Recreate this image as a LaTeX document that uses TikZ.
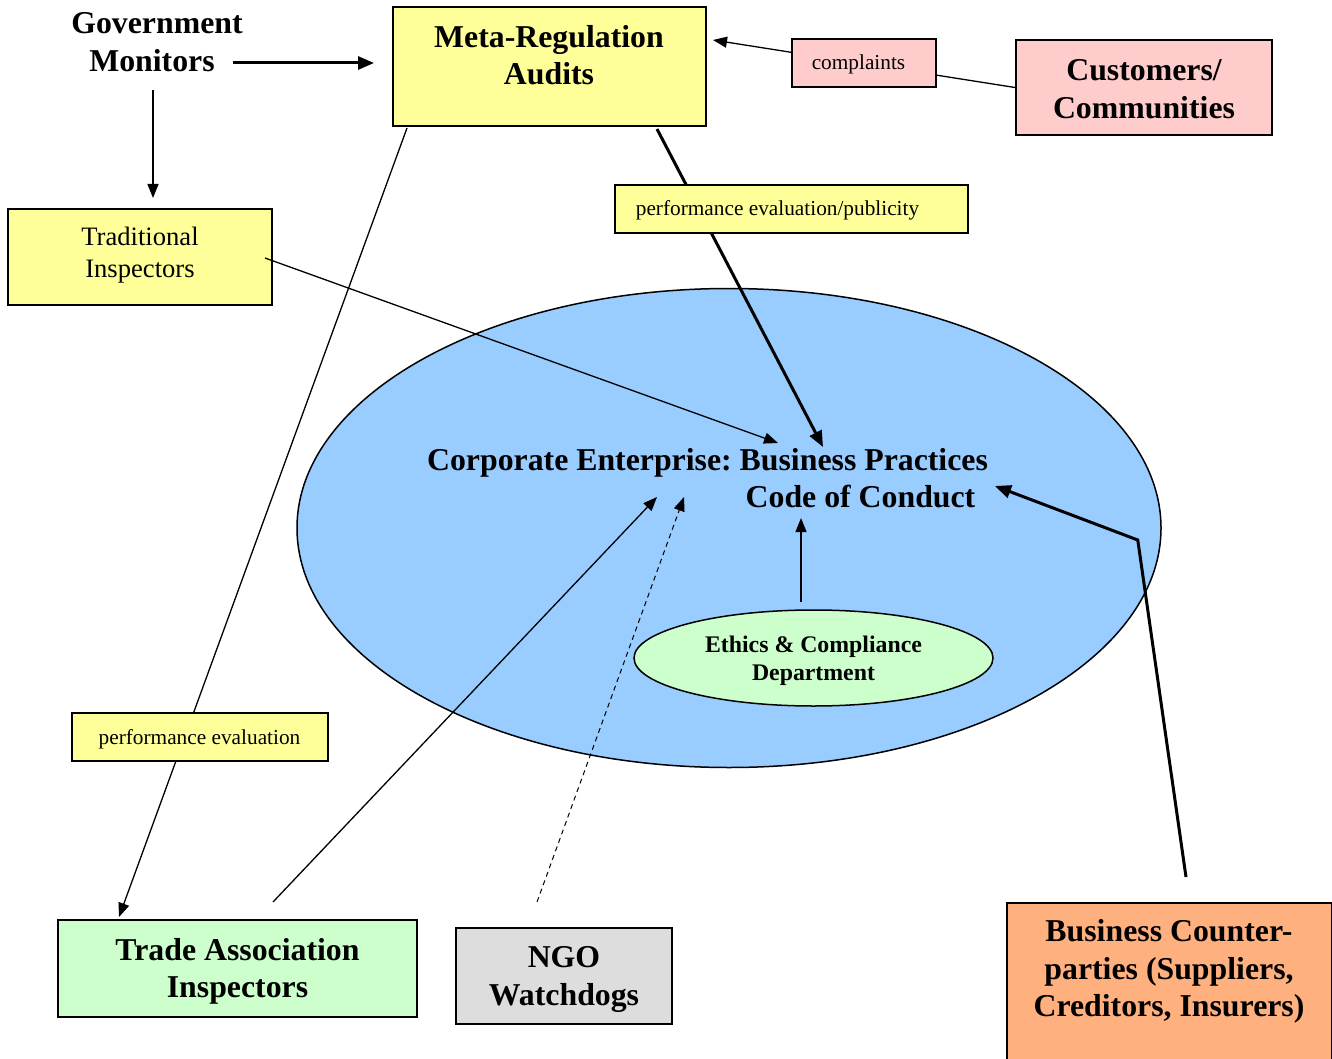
\documentclass[tikz,border=0pt]{standalone}
\usepackage{fontspec}
\setmainfont{Liberation Serif}
\usetikzlibrary{arrows.meta,calc,shapes.geometric}
\frenchspacing

\definecolor{boxyellow}{HTML}{FFFF99}
\definecolor{boxpink}{HTML}{FFCCCC}
\definecolor{corpblue}{HTML}{99CCFF}
\definecolor{boxgreen}{HTML}{CCFFCC}
\definecolor{boxgrey}{HTML}{DDDDDD}
\definecolor{boxorange}{HTML}{FFB07F}

\tikzset{
  panel/.style={draw=black, line width=2pt, rectangle, inner sep=0pt},
  bigtxt/.style={font=\fontsize{31.8}{37.5}\selectfont\bfseries, align=center, inner sep=0pt},
  midtxt/.style={font=\fontsize{26.6}{32}\selectfont, align=center, inner sep=0pt},
  smalltxt/.style={font=\fontsize{21.3}{24}\selectfont, inner sep=0pt},
  deptxt/.style={font=\fontsize{23.8}{28}\selectfont\bfseries, align=center, inner sep=0pt},
  thinarrow/.style={line width=1.3pt, -{Triangle[length=14pt,width=11pt]}},
  thickarrow/.style={line width=3pt, -{Triangle[length=16pt,width=13pt]}},
  dashedarrow/.style={line width=1pt, dash pattern=on 5pt off 4pt, -{Triangle[length=14pt,width=11pt]}},
}

\begin{document}
\begin{tikzpicture}[x=1pt,y=-1pt]
\useasboundingbox (0,0) rectangle (1332,1059);

% corporate enterprise and its compliance department
\node[draw=black, line width=1.5pt, fill=corpblue, ellipse, minimum width=864, minimum height=479, inner sep=0pt] (corp) at (729,528) {};
\node[draw=black, line width=1.5pt, fill=boxgreen, ellipse, minimum width=359, minimum height=96, inner sep=0pt] (ethics) at (813.5,658) {};
\node[deptxt] (ethicstext) at (813.5,661) {Ethics \& Compliance\\Department};
\node[bigtxt, anchor=base] (corptext) at (707.5,470) {Corporate Enterprise: Business Practices};
\node[bigtxt, anchor=base] (codetext) at (860.5,507) {Code of Conduct};

% regulators and outside parties
\node[bigtxt] (gov) at (157,42) {Government\\Monitors\rule{10pt}{0pt}};
\node[panel, fill=boxyellow, minimum width=313, minimum height=119] (meta) at (549.5,66.5) {};
\node[bigtxt] (metatext) at (549,55) {Meta-Regulation\\Audits};
\node[panel, fill=boxyellow, minimum width=264, minimum height=96] (trad) at (140,257) {};
\node[midtxt] (tradtext) at (140,255) {Traditional\\Inspectors};
\node[panel, fill=boxpink, minimum width=256, minimum height=95] (cust) at (1144,87.5) {};
\node[bigtxt] (custtext) at (1144,89) {Customers/\\Communities};
\node[panel, fill=boxgreen, minimum width=359, minimum height=97] (trade) at (237.5,968.5) {};
\node[bigtxt] (tradetext) at (237.5,971.5) {Trade Association\\Inspectors};
\node[panel, fill=boxgrey, minimum width=216, minimum height=96] (ngo) at (564,976) {};
\node[bigtxt] (ngotext) at (564,979.5) {NGO\\Watchdogs};
\node[panel, fill=boxorange, minimum width=325, minimum height=162, anchor=north west] (biz) at (1006,902) {};
\node[bigtxt] (biztext) at (1169,971.5) {Business Counter-\\parties (Suppliers,\\Creditors, Insurers)};

% connectors
\draw[thickarrow] ($(gov.center)+(76,21)$) -- ($(meta.west)+(-18,-3.5)$);
\draw[thinarrow] ($(gov.center)+(-4,48)$) -- ($(trad.north)+(13,-10)$);
\draw[thinarrow] ($(trad.east)+(-8,1)$) -- ($(corptext.base)+(70.5,-27)$);
\draw[thickarrow] ($(meta.south)+(107.5,2)$) -- ($(codetext.base)+(-37.5,-60)$);
\draw[thinarrow] (cust.west) -- ($(meta.east)+(6,-26.5)$);
\draw[thinarrow] ($(meta.south west)+(15,1)$) -- ($(trade.north west)+(62,-2)$);
\draw[thinarrow] ($(trade.north)+(35.5,-17)$) -- ($(corptext.base)+(-50.5,27)$);
\draw[dashedarrow] ($(ngo.north)+(-27,-25)$) -- ($(corptext.base)+(-23.5,27)$);
\draw[thinarrow] ($(ethics.north)+(-12.5,-7)$) -- ($(codetext.base)+(-59.5,11)$);
\draw[thickarrow] ($(biz.north)+(16.5,-25)$) -- ($(corp.east)+(-24,12)$) -- ($(codetext.base)+(134.5,-21)$);

% connector labels
\node[panel, fill=boxpink, minimum width=144, minimum height=48] (compl) at (864,63) {};
\node[smalltxt, anchor=base] (compltext) at (858.5,70) {complaints};
\node[panel, fill=boxyellow, minimum width=353, minimum height=48] (pub) at (791.5,209) {};
\node[smalltxt, anchor=base] (pubtext) at (777.5,215.5) {performance evaluation/publicity};
\node[panel, fill=boxyellow, minimum width=256, minimum height=48] (perf) at (200,737) {};
\node[smalltxt, anchor=base] (perftext) at (199.5,744) {performance evaluation};
\end{tikzpicture}
\end{document}
